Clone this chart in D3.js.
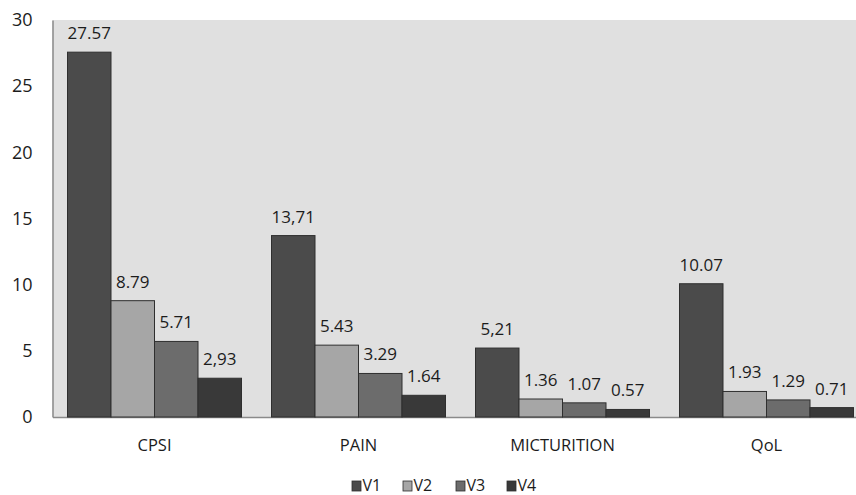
<!DOCTYPE html>
<html><head><meta charset="utf-8">
<script src="https://cdn.jsdelivr.net/npm/d3@7"></script>
<style>body{margin:0;background:#fff}svg{display:block}text{font-family:"Open Sans",sans-serif;fill:#1c1c1c}</style>
</head><body><svg id="c" width="856" height="495"></svg>
<script>
const categories = ["CPSI", "PAIN", "MICTURITION", "QoL"];
const seriesNames = ["V1", "V2", "V3", "V4"];
const V1 = [27.57, 13.71, 5.21, 10.07];
const V2 = [8.79, 5.43, 1.36, 1.93];
const V3 = [5.71, 3.29, 1.07, 1.29];
const V4 = [2.93, 1.64, 0.57, 0.71];
const labelsV1 = ["27.57", "13,71", "5,21", "10.07"];
const labelsV2 = ["8.79", "5.43", "1.36", "1.93"];
const labelsV3 = ["5.71", "3.29", "1.07", "1.29"];
const labelsV4 = ["2,93", "1.64", "0.57", "0.71"];
const yTicks = [0, 5, 10, 15, 20, 25, 30];
const colors = ["#4b4b4b", "#a6a6a6", "#6c6c6c", "#393939"];

const series = [V1, V2, V3, V4];
const labels = [labelsV1, labelsV2, labelsV3, labelsV4];

const svg = d3.select("#c");
const mLeft = 52.5, mTop = 20, mBottom = 417, rightRange = 868.5;
const x = d3.scaleBand().domain(categories).range([mLeft, rightRange]).paddingInner(30/204).paddingOuter(15/204);
const xs = d3.scaleBand().domain(seriesNames).range([0, x.bandwidth()]);
const y = d3.scaleLinear().domain([0, 30]).range([mBottom, mTop]);

svg.append("rect").attr("x", mLeft).attr("y", mTop).attr("width", 856 - mLeft).attr("height", mBottom - mTop).attr("fill", "#e0e0e0");

const gx = svg.append("g").attr("transform", `translate(0,${mBottom})`)
  .call(d3.axisBottom(x).tickSize(0).tickPadding(22));
gx.select(".domain").attr("stroke", "#8a8a8a").attr("stroke-width", 1.5);
gx.selectAll("text").style("font-size", "16.5px").attr("fill", "#1c1c1c").attr("font-family", "Open Sans");

const gy = svg.append("g").attr("transform", `translate(${mLeft},0)`)
  .call(d3.axisLeft(y).tickValues(yTicks).tickSize(0).tickPadding(20));
gy.select(".domain").attr("stroke", "#8a8a8a").attr("stroke-width", 1.5);
gy.selectAll("text").style("font-size", "18px").attr("fill", "#1c1c1c").attr("font-family", "Open Sans");

series.forEach((vals, si) => {
  const g = svg.append("g");
  g.selectAll("rect").data(vals).join("rect")
    .attr("x", (d, i) => x(categories[i]) + xs(seriesNames[si]))
    .attr("y", d => y(d))
    .attr("width", xs.bandwidth())
    .attr("height", d => mBottom - y(d))
    .attr("fill", colors[si]).attr("stroke", "#2f2f2f").attr("stroke-width", 1);
  g.selectAll("text").data(vals).join("text")
    .attr("x", (d, i) => x(categories[i]) + xs(seriesNames[si]) + xs.bandwidth() / 2)
    .attr("y", d => y(d) - 13)
    .attr("text-anchor", "middle")
    .style("font-size", "17px")
    .text((d, i) => labels[si][i]);
});

const legendX = [352, 403, 456, 507];
const lg = svg.append("g");
seriesNames.forEach((n, i) => {
  lg.append("rect").attr("x", legendX[i]).attr("y", 481).attr("width", 9).attr("height", 10)
    .attr("fill", colors[i]).attr("stroke", "#2f2f2f").attr("stroke-width", 0.8);
  lg.append("text").attr("x", legendX[i] + 10.5).attr("y", 491).style("font-size", "16px").text(n);
});
</script></body></html>
